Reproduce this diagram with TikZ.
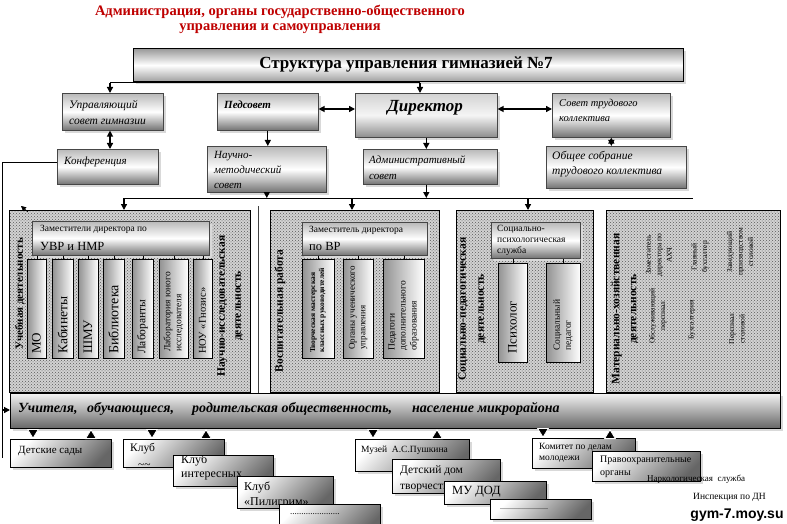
\documentclass[tikz,border=0pt]{standalone}
\usepackage{fontspec}
\setmainfont{Liberation Serif}
\newfontfamily\wmfont{Liberation Sans}
\usetikzlibrary{arrows.meta,patterns,shadows}
\tikzset{
  fn/.style 2 args={font=\fontsize{#1}{#2}\selectfont},
  fi/.style 2 args={font=\fontsize{#1}{#2}\selectfont\itshape},
  fb/.style 2 args={font=\fontsize{#1}{#2}\selectfont\bfseries},
  fbi/.style 2 args={font=\fontsize{#1}{#2}\selectfont\bfseries\itshape},
  txt/.style={inner sep=0pt, anchor=west, align=left},
  rtxt/.style={inner sep=0pt, rotate=90, anchor=west, align=left},
  ctxt/.style={inner sep=0pt, rotate=90, align=center},
  shd/.style={drop shadow={shadow xshift=2.5pt,shadow yshift=-2.5pt,fill=gray!30,opacity=1}},
  mbox/.style={shd, draw=gray!55!black, line width=0.6pt, top color=gray!55, bottom color=black!55, middle color=white, inner sep=0pt, anchor=north west},
  sbox/.style={shd, draw=black, line width=1.2pt, top color=gray!80, bottom color=gray!75, middle color=white, inner sep=0pt, anchor=north west},
  vbox/.style={draw=black, line width=0.7pt, left color=gray!85, right color=white, inner sep=0pt, anchor=north west},
  dbox/.style={draw=black, line width=0.8pt, preaction={fill=gray!35}, pattern=crosshatch dots, pattern color=black!65, inner sep=0pt, anchor=north west},
  barbox/.style={shd, draw=black, line width=1pt, top color=gray!10, bottom color=black!60, inner sep=0pt, anchor=north west},
  bbox/.style={shd, draw=black, line width=0.8pt, top color=white, bottom color=black!60, shading angle=45, inner sep=0pt, anchor=north west},
  ln/.style={line width=1pt},
  tick/.style={line width=0.6pt},
  arr/.style={line width=1.3pt, -{Triangle[width=6pt,length=6pt]}},
  darr/.style={line width=1.3pt, {Triangle[width=6pt,length=6pt]}-{Triangle[width=6pt,length=6pt]}},
  tarr/.style={line width=0.6pt, -{Triangle[width=12pt,length=10pt,color=white,fill=black,line width=0.8pt]}},
  ttl/.style={inner sep=0pt, text=red!75!black, fb={14.5}{17}},
}
\begin{document}
\begin{tikzpicture}[x=1pt,y=-1pt]
\useasboundingbox (0,0) rectangle (787,524);
\fill[white] (0,0) rectangle (787,524);
\clip (0,0) rectangle (787,524);

% title
\node[ttl] (t1) at (280,12) {Администрация, органы государственно-общественного};
\node[ttl] (t2) at (280,29) {управления и самоуправления};

% structure
\node[sbox, minimum width=550, minimum height=33] (struct) at (133,48) {};
\node[inner sep=0pt, fb={17}{20}] (struct-t) at (406,64) {Структура управления гимназией №7};

% top boxes
\node[mbox, minimum width=101, minimum height=37] (upr) at (62,93) {};
\node[txt, fi={11.5}{16}] (upr-t) at (69,112) {Управляющий\\совет гимназии};
\node[mbox, minimum width=101, minimum height=37] (ped) at (217,93) {};
\node[txt, fbi={11}{13}] (ped-t) at (224,105) {Педсовет};
\node[mbox, top color=gray!35, bottom color=gray!90, middle color=gray!8, minimum width=142, minimum height=44] (dir) at (355,93) {};
\node[inner sep=0pt, fbi={17}{20}] (dir-t) at (425,108) {Директор};
\node[mbox, minimum width=118, minimum height=44] (sovtr) at (552,93) {};
\node[txt, fi={10.5}{15}] (sovtr-t) at (559,110.5) {Совет трудового\\коллектива};
\node[mbox, minimum width=101, minimum height=35] (konf) at (57,149) {};
\node[txt, fi={11}{13}] (konf-t) at (64,162) {Конференция};
\node[mbox, minimum width=119, minimum height=46] (nms) at (207,146) {};
\node[txt, fi={11}{15}] (nms-t) at (214,170) {Научно-\\методический\\совет};
\node[mbox, minimum width=134, minimum height=35] (adm) at (363,149) {};
\node[txt, fi={11}{16}] (adm-t) at (369,168) {Административный\\совет};
\node[mbox, minimum width=140, minimum height=42] (obsh) at (546,146) {};
\node[txt, fi={11.5}{15}] (obsh-t) at (552,164.5) {Общее собрание\\трудового коллектива};

% top connectors
\coordinate (ra) at (110,83);
\coordinate (rb) at (420,83);
\draw[ln] (ra) -- (rb);
\draw[arr] (ra) -- (ra |- upr.north);
\draw[arr] (rb) -- (rb |- dir.north);
\coordinate (h109) at (0,109);
\draw[darr] (ped.east |- h109) -- (dir.west |- h109);
\draw[darr] (dir.east |- h109) -- (sovtr.west |- h109);
\draw[arr] (dir.south) -- (dir.south |- adm.north);
\draw[darr] (sovtr.south) -- (sovtr.south |- obsh.north);
\coordinate (v110) at (110,0);
\draw[darr] (upr.south -| v110) -- (konf.north -| v110);
\draw[arr] (ped.south) -- (ped.south |- nms.north);

% dotted areas
\node[dbox, minimum width=241, minimum height=182] (b1) at (9,210) {};
\node[dbox, minimum width=169, minimum height=182] (b2) at (270,210) {};
\node[dbox, minimum width=137, minimum height=182] (b3) at (456,210) {};
\node[dbox, minimum width=174, minimum height=182] (b4) at (606,210) {};
\coordinate (sl1) at (258,206);
\coordinate (sl2) at (258,393);
\draw[line width=0.7pt, gray!50!black] (sl1) -- (sl2);

% rail
\coordinate (rl) at (124,198);
\coordinate (rr) at (693,198);
\coordinate (r2) at (352,198);
\coordinate (r3) at (528,198);
\draw[ln] (rl) -- (rr);
\draw[arr] (nms.south) -- (nms.south |- rl);
\draw[arr] (dir.south |- adm.south) -- (dir.south |- rl);
\draw[arr] (rl) -- (rl |- b1.north);
\draw[arr] (r2) -- (r2 |- b2.north);
\draw[arr] (r3) -- (r3 |- b3.north);
\coordinate (sa) at (28,212);
\coordinate (sb) at (21,206);
\draw[line width=0.6pt, -{Triangle[width=5pt,length=5pt]}] (sa) -- (sb);

% block 1
\node[mbox, minimum width=177, minimum height=34] (zam1) at (32,221) {};
\node[txt, fn={9.5}{11}] (zam1-a) at (40,229) {Заместители директора по};
\node[txt, fn={12.5}{14}] (zam1-b) at (40,246) {УВР и НМР};
\node[vbox, minimum width=19, minimum height=99] (mo) at (27,259) {};
\node[vbox, minimum width=21, minimum height=99] (kab) at (52,259) {};
\node[vbox, minimum width=20, minimum height=99] (shmu) at (78,259) {};
\node[vbox, minimum width=21, minimum height=99] (bib) at (103,259) {};
\node[vbox, minimum width=21, minimum height=99] (lab) at (132,259) {};
\node[vbox, minimum width=29, minimum height=99] (lyi) at (159,259) {};
\node[vbox, minimum width=19, minimum height=99] (nou) at (193,259) {};
\foreach \n in {mo,kab,shmu,bib,lab,lyi,nou}{\draw[tick] (\n.north) -- (\n.north |- zam1.south);}
\node[rtxt, fn={13}{14}] (mo-t) at (36.5,354) {МО};
\node[rtxt, fn={13.5}{14}] (kab-t) at (62.5,354) {Кабинеты};
\node[rtxt, fn={13}{14}] (shmu-t) at (88,354) {ШМУ};
\node[rtxt, fn={14}{15}] (bib-t) at (113.5,354) {Библиотека};
\node[rtxt, fn={11.5}{13}] (lab-t) at (142.5,354) {Лаборанты};
\node[rtxt, fn={9.5}{11}] (lyi-t) at (173.5,352) {Лаборатория юного\\исследователя};
\node[rtxt, fn={10.5}{12}] (nou-t) at (202.5,354) {НОУ «Гнозис»};
\node[ctxt, fb={11}{13}] (b1-l) at (20,294) {Учебная деятельность};
\node[ctxt, fb={11.5}{16}] (b1-r) at (230,306) {Научно-исследовательская\\деятельность};

% block 2
\node[mbox, minimum width=125, minimum height=33] (zam2) at (302,222) {};
\node[txt, fn={9.5}{11}] (zam2-a) at (309,230) {Заместитель директора};
\node[txt, fn={12.5}{14}] (zam2-b) at (309,246) {по ВР};
\node[vbox, minimum width=32, minimum height=99] (tvm) at (302,259) {};
\node[vbox, minimum width=30, minimum height=99] (org) at (343,259) {};
\node[vbox, minimum width=41, minimum height=99] (pdo) at (383,259) {};
\foreach \n in {tvm,org,pdo}{\draw[tick] (\n.north) -- (\n.north |- zam2.south);}
\node[rtxt, fb={7.5}{9}] (tvm-t) at (318,353) {Творческая мастерская\\классных руководителей};
\node[rtxt, fn={9}{10.5}] (org-t) at (358,350) {Органы ученического\\управления};
\node[rtxt, fn={9.5}{11}] (pdo-t) at (403.5,351) {Педагоги\\дополнительного\\образования};
\node[ctxt, fb={11.5}{13}] (b2-l) at (280,311) {Воспитательная работа};

% block 3
\node[mbox, minimum width=89, minimum height=36] (zsp) at (491,222) {};
\node[txt, fn={9.5}{11}] (zsp-t) at (497,240) {Социально-\\психологическая\\служба};
\node[vbox, minimum width=29, minimum height=99] (psy) at (498,263) {};
\node[vbox, minimum width=34, minimum height=99] (sped) at (546,263) {};
\foreach \n in {psy,sped}{\draw[tick] (\n.north) -- (\n.north |- zsp.south);}
\node[rtxt, fn={13}{14}] (psy-t) at (512.5,354) {Психолог};
\node[rtxt, fn={9.5}{11}] (sped-t) at (563,351) {Социальный\\педагог};
\node[ctxt, fb={11.5}{18}] (b3-l) at (472,309) {Социально-педагогическая\\деятельность};

% block 4
\node[ctxt, fb={11.5}{17}] (b4-l) at (625,309) {Материально-хозяйственная\\деятельность};
\node[ctxt, fn={7.5}{10.5}] (b4-a) at (659,255) {Заместитель\\директора по\\АХЧ};
\node[ctxt, fn={7.5}{10.5}] (b4-b) at (658,316) {Обслуживающий\\персонал};
\node[ctxt, fn={7.5}{10.5}] (b4-c) at (700,257) {Главный\\бухгалтер};
\node[ctxt, fn={7.5}{10.5}] (b4-d) at (692,320) {Бухгалтерия};
\node[ctxt, fn={7.5}{10.5}] (b4-e) at (740,252) {Заведующий\\производством\\столовой};
\node[ctxt, fn={7.5}{10.5}] (b4-f) at (737,329) {Персонал\\столовой};

% bar
\node[barbox, minimum width=770, minimum height=35] (bar) at (10,393) {};
\node[fbi={14}{16}, inner sep=0pt, anchor=base west] (bt1) at (18,412) {Учителя,};
\node[fbi={14}{16}, inner sep=0pt, anchor=base west] (bt2) at (87,412) {обучающиеся,};
\node[fbi={14}{16}, inner sep=0pt, anchor=base west] (bt3) at (192,412) {родительская общественность,};
\node[fbi={14}{16}, inner sep=0pt, anchor=base west] (bt4) at (412,412) {население микрорайона};
\coordinate (lt) at (2,162);
\coordinate (lb) at (2,458);
\coordinate (la) at (2,410);
\draw[ln] (konf.west |- lt) -- (lt) -- (lb);
\draw[arr] (la) -- (la -| bar.west);

% bottom boxes
\node[bbox, minimum width=101, minimum height=28] (ds) at (10,439) {};
\node[txt, fn={11}{13}] (ds-t) at (18,451) {Детские сады};
\node[bbox, minimum width=101, minimum height=28] (k1) at (123,439) {};
\begin{scope}
\clip (k1.south west) rectangle (k1.north east);
\node[txt, fn={11.5}{13}] (k1-t) at (130,449) {Клуб};
\node[txt, fn={11.5}{13}] (k1-u) at (138,466) {\textasciitilde\textasciitilde};
\end{scope}
\node[bbox, minimum width=100, minimum height=31] (k2) at (173,455) {};
\begin{scope}
\clip (k2.south west) rectangle (k2.north east);
\node[txt, fn={12}{14}] (k2-t) at (181,467) {Клуб\\интересных};
\end{scope}
\node[bbox, minimum width=96, minimum height=32] (k3) at (237,476) {};
\begin{scope}
\clip (k3.south west) rectangle (k3.north east);
\node[txt, fn={12}{15}] (k3-t) at (244,495) {Клуб\\«Пилигрим»};
\end{scope}
\node[bbox, minimum width=101, minimum height=30] (k4) at (279,504) {};
\node[txt, fn={9}{10}] (k4-t) at (290,514) {......................};
\node[bbox, minimum width=114, minimum height=32] (mus) at (355,439) {};
\node[txt, fn={9.5}{11}] (mus-t) at (361,450) {Музей\ \ А.С.Пушкина};
\node[bbox, minimum width=108, minimum height=34] (ddt) at (392,459) {};
\node[txt, fn={11.5}{16}] (ddt-t) at (400,479) {Детский дом\\творчества};
\node[bbox, minimum width=102, minimum height=23] (mu) at (444,481) {};
\node[txt, fn={12.5}{14}] (mu-t) at (452,492) {МУ ДОД};
\node[bbox, minimum width=101, minimum height=20] (dots2) at (490,499) {};
\node[txt, fn={8}{9}] (dots2-t) at (500,509) {........................};
\node[bbox, minimum width=103, minimum height=30] (kom) at (532,438) {};
\node[txt, fn={9.5}{11.5}] (kom-t) at (539,453) {Комитет по делам\\молодежи};
\node[bbox, minimum width=108, minimum height=30] (prav) at (592,451) {};
\node[txt, fn={10}{12.5}] (prav-t) at (600,467) {Правоохранительные\\органы};
\node[txt, fn={9}{10}] (narc) at (647,479) {Наркологическая\ \ служба};
\node[txt, fn={9.5}{10}] (insp) at (693,497) {Инспекция по ДН};
\node[inner sep=0pt, font=\wmfont\fontsize{14}{15}\selectfont\bfseries] (wm) at (737,515) {gym-7.moy.su};

% bar <-> boxes
\coordinate (d1) at (33,0);
\coordinate (u1) at (91,0);
\coordinate (d2) at (152,0);
\coordinate (u2) at (206,0);
\coordinate (d3) at (373,0);
\coordinate (u3) at (437,0);
\coordinate (d4) at (543,0);
\coordinate (u4) at (610,0);
\draw[tarr] (bar.south -| d1) -- (ds.north -| d1);
\draw[tarr] (ds.north -| u1) -- (bar.south -| u1);
\draw[tarr] (bar.south -| d2) -- (k1.north -| d2);
\draw[tarr] (k1.north -| u2) -- (bar.south -| u2);
\draw[tarr] (bar.south -| d3) -- (mus.north -| d3);
\draw[tarr] (mus.north -| u3) -- (bar.south -| u3);
\draw[tarr] (bar.south -| d4) -- (kom.north -| d4);
\draw[tarr] (kom.north -| u4) -- (bar.south -| u4);
\end{tikzpicture}
\end{document}
